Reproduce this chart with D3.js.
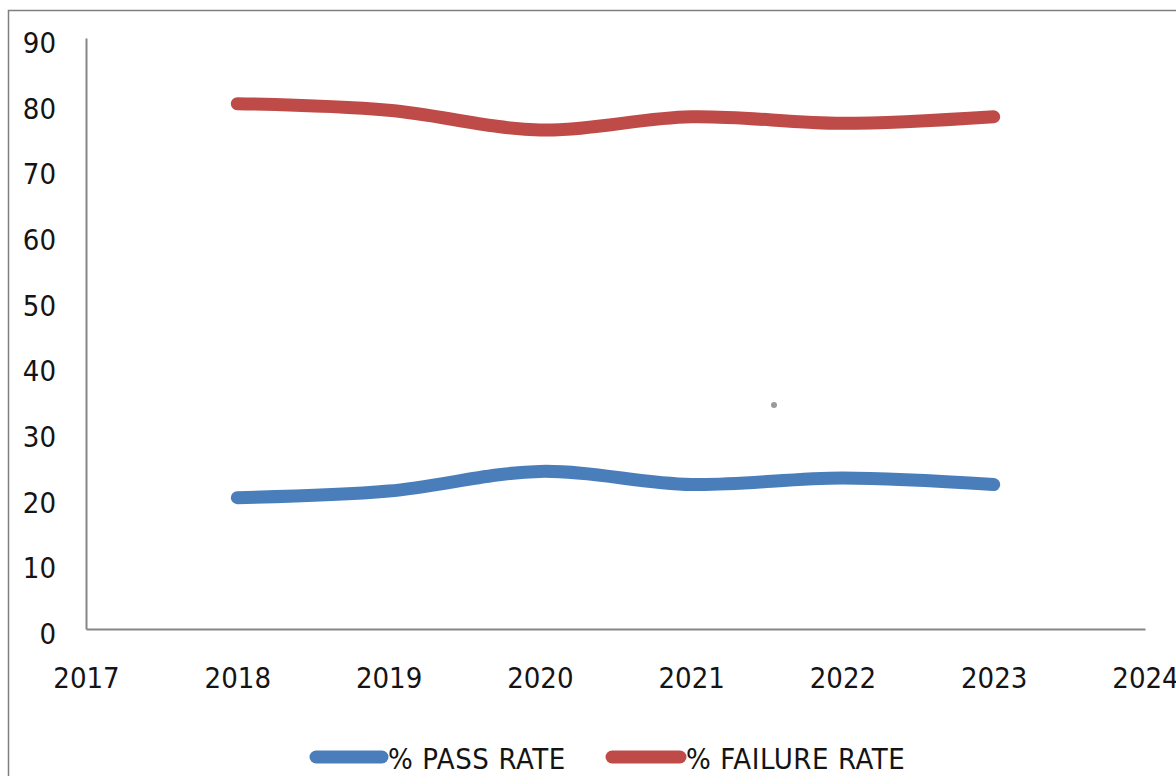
<!DOCTYPE html>
<html>
<head>
<meta charset="utf-8">
<script src="https://cdn.jsdelivr.net/npm/d3@7"></script>
<style>
  html, body { margin: 0; padding: 0; background: #fff; }
  svg { display: block; }
  .tick text { font-family: "DejaVu Sans Condensed", "DejaVu Sans", sans-serif; font-stretch: condensed; }
</style>
</head>
<body>
<svg id="chart" width="1176" height="776"></svg>
<script>
// Yearly pass / failure percentages
const years = [2018, 2019, 2020, 2021, 2022, 2023];
const passRate = [20, 21, 24, 22, 23, 22];
const failureRate = [80, 79, 76, 78, 77, 78];
const seriesNames = ["% PASS RATE", "% FAILURE RATE"];
const seriesColors = ["#4a7ebb", "#be4b48"];
const xTicks = [2017, 2018, 2019, 2020, 2021, 2022, 2023, 2024];
const yTicks = [0, 10, 20, 30, 40, 50, 60, 70, 80, 90];

const svg = d3.select("#chart");
const W = 1176, H = 776;

// outer frame
svg.append("rect")
  .attr("x", 8.5).attr("y", 10.5)
  .attr("width", W).attr("height", H)
  .attr("fill", "#fff").attr("stroke", "#7f7f7f").attr("stroke-width", 1.5);

const plot = { left: 86, right: 1145, top: 38, bottom: 629 };

const x = d3.scaleLinear().domain([2017, 2024]).range([plot.left, plot.right]);
const y = d3.scaleLinear().domain([0, 90]).range([plot.bottom, plot.top]);

const axisColor = "#868686";

// y axis
const yAxis = svg.append("g")
  .attr("transform", `translate(${plot.left},0)`)
  .call(d3.axisLeft(y).tickValues(yTicks).tickSize(0).tickPadding(30).tickFormat(d3.format("d")));
yAxis.select(".domain").attr("stroke", axisColor).attr("stroke-width", 2);
yAxis.selectAll(".tick text")
  .attr("font-size", 29).attr("fill", "#141414").attr("dy", "0.5em");

// x axis
const xAxis = svg.append("g")
  .attr("transform", `translate(0,${plot.bottom})`)
  .call(d3.axisBottom(x).tickValues(xTicks).tickSize(0).tickPadding(38).tickFormat(d3.format("d")));
xAxis.select(".domain").attr("stroke", axisColor).attr("stroke-width", 2);
xAxis.selectAll(".tick text")
  .attr("font-size", 29).attr("fill", "#141414");

// smoothed series lines
const line = d3.line()
  .x(d => x(d[0]))
  .y(d => y(d[1]))
  .curve(d3.curveCatmullRom.alpha(0));

[passRate, failureRate].forEach((vals, i) => {
  svg.append("path")
    .datum(years.map((yr, k) => [yr, vals[k]]))
    .attr("d", line)
    .attr("fill", "none")
    .attr("stroke", seriesColors[i])
    .attr("stroke-width", 13)
    .attr("stroke-linecap", "round")
    .attr("stroke-linejoin", "round");
});

// small stray dot inside the plot
svg.append("circle")
  .attr("cx", 774).attr("cy", 405).attr("r", 3)
  .attr("fill", "#9a9a9a");

// legend
const legendItems = [
  { x0: 316, x1: 382, tx: 388 },
  { x0: 612, x1: 680, tx: 686 }
];
legendItems.forEach((it, i) => {
  svg.append("line")
    .attr("x1", it.x0).attr("x2", it.x1)
    .attr("y1", 757).attr("y2", 757)
    .attr("stroke", seriesColors[i])
    .attr("stroke-width", 13)
    .attr("stroke-linecap", "round");
  svg.append("text")
    .attr("x", it.tx).attr("y", 769)
    .attr("font-family", "'DejaVu Sans Condensed', 'DejaVu Sans', sans-serif")
    .attr("font-stretch", "condensed")
    .attr("font-size", 29)
    .attr("letter-spacing", 0.6)
    .attr("fill", "#141414")
    .text(seriesNames[i]);
});
</script>
</body>
</html>
